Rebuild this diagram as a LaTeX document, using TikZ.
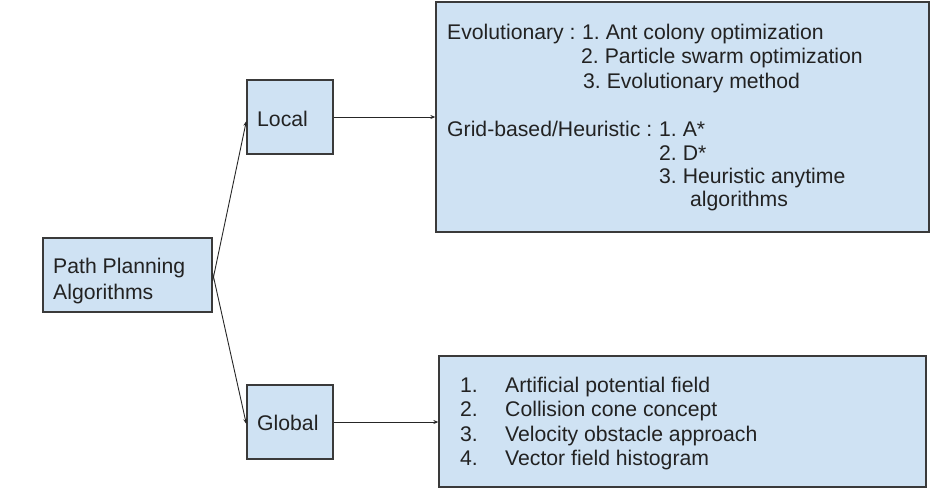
\documentclass[tikz,border=0pt]{standalone}
\usepackage{fontspec}
\setmainfont{Liberation Sans}
\usetikzlibrary{arrows.meta}
\definecolor{boxfill}{HTML}{CFE2F3}
\definecolor{boxdraw}{HTML}{3A3A3A}
\definecolor{txtcol}{HTML}{222222}
\tikzset{
  box/.style={draw=boxdraw, fill=boxfill, line width=1.3pt, inner sep=0pt},
  txt/.style={anchor=base west, inner sep=0pt, font=\fontsize{21.2}{24}\selectfont\frenchspacing, text=txtcol},
  arr/.style={-{Stealth[length=5pt,width=4pt]}, line width=0.9pt, draw=black!85}
}
\begin{document}
\begin{tikzpicture}[x=1pt,y=-1pt]
\useasboundingbox (0,0) rectangle (938,488);
% boxes
\node[box, minimum width=169pt, minimum height=74pt] (pp) at (127.5,275) {};
\node[box, minimum width=86pt, minimum height=74pt] (local) at (290,117) {};
\node[box, minimum width=86pt, minimum height=74pt] (global) at (290,422) {};
\node[box, minimum width=493pt, minimum height=230pt] (top) at (682.5,117) {};
\node[box, minimum width=487pt, minimum height=131pt] (bot) at (682.5,421.5) {};
% small box labels
\node[txt] (tpp1) at (53,273) {Path Planning};
\node[txt] (tpp2) at (53,299) {Algorithms};
\node[txt] (tloc) at (257,126) {Local};
\node[txt] (tglo) at (257,430) {Global};
% top box text
\node[txt] (e0) at (447,39) {Evolutionary :};
\node[txt] (e1) at (582,39) {1. Ant colony optimization};
\node[txt] (e2) at (581,63.5) {2. Particle swarm optimization};
\node[txt] (e3) at (583,88) {3. Evolutionary method};
\node[txt] (g0) at (447,136.5) {Grid-based/Heuristic :};
\node[txt] (g1) at (659,136.5) {1. A*};
\node[txt] (g2) at (659,160) {2. D*};
\node[txt] (g3) at (659,183.5) {3. Heuristic anytime};
\node[txt] (g4) at (690,206.5) {algorithms};
% bottom box text
\node[txt] (n1) at (460,392) {1.};
\node[txt] (n2) at (460,416.5) {2.};
\node[txt] (n3) at (460,441) {3.};
\node[txt] (n4) at (460,465) {4.};
\node[txt] (b1) at (505,392) {Artificial potential field};
\node[txt] (b2) at (505,416.5) {Collision cone concept};
\node[txt] (b3) at (505,441) {Velocity obstacle approach};
\node[txt] (b4) at (505,465) {Vector field histogram};
% connectors
\draw[arr] ([yshift=-6pt]pp.east) -- ([yshift=-4pt]local.west);
\draw[arr] ([yshift=2pt]pp.east) -- ([yshift=-2pt]global.west);
\draw[arr] (local.east) -- (local.east -| top.west);
\draw[arr] (global.east) -- (global.east -| bot.west);
\end{tikzpicture}
\end{document}
